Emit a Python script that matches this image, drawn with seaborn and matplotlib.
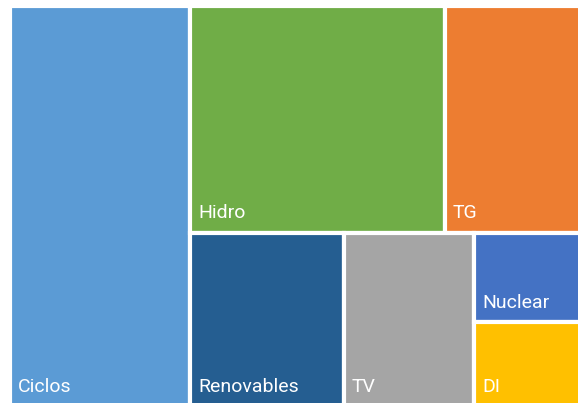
import matplotlib
matplotlib.use("Agg")
import matplotlib.pyplot as plt
import seaborn as sns
from matplotlib.patches import Rectangle

sns.set_theme(style="white")
plt.rcParams['font.family'] = ['Roboto', 'DejaVu Sans']

# share of each technology (%)
labels = ['Ciclos', 'Hidro', 'TG', 'Renovables', 'TV', 'Nuclear', 'DI']
values = [31.5, 25.2, 13.6, 11.7, 9.9, 4.2, 4.0]
colors = ['#5B9BD5', '#70AD47', '#ED7D31', '#255E91', '#A5A5A5', '#4472C4', '#FFC000']

# grouping used by the treemap (index lists, nested)
tree = [0, [[1, 2], [3, 4, [5, 6]]]]


def total(node):
    if isinstance(node, list):
        return sum(total(n) for n in node)
    return values[node]


def layout(node, x, y, w, h, horiz, out):
    if not isinstance(node, list):
        out.append((node, x, y, w, h))
        return
    s = total(node)
    pos = 0.0
    for child in node:
        f = total(child) / s
        if horiz:
            layout(child, x + pos * w, y, w * f, h, not horiz, out)
        else:
            layout(child, x, y + pos * h, w, h * f, not horiz, out)
        pos += f


W, H = 578, 403
fig = plt.figure(figsize=(W / 100, H / 100), dpi=100)
ax = fig.add_axes([0, 0, 1, 1])
ax.set_xlim(0, W)
ax.set_ylim(H, 0)
ax.axis('off')

# the treemap runs a little past the right and bottom edges (cropped)
tiles = []
layout(tree, 10, 6, 572, 401, True, tiles)
for i, x, y, w, h in tiles:
    ax.add_patch(Rectangle((x, y), w, h, facecolor=colors[i], edgecolor='white', linewidth=3))
    ax.text(x + 8, y + h - 14.5, labels[i], color='white', fontsize=14, va='baseline', ha='left')

fig.savefig('out.png', dpi=100)
